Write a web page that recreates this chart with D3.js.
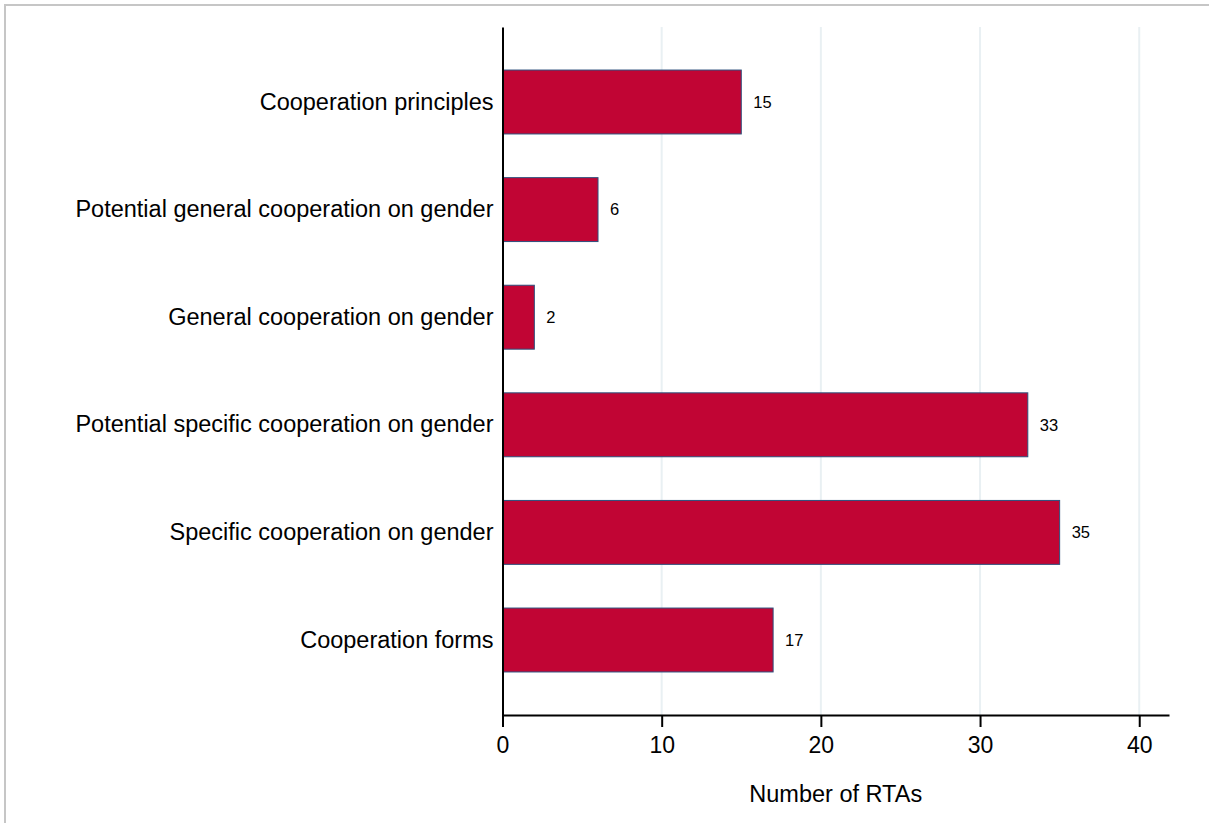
<!DOCTYPE html>
<html>
<head>
<meta charset="utf-8">
<script src="https://cdn.jsdelivr.net/npm/d3@7"></script>
<style>
  html, body { margin: 0; padding: 0; background: #ffffff; }
  svg { display: block; }
  text { font-family: "Liberation Sans", Arial, sans-serif; fill: #000; }
</style>
</head>
<body>
<svg id="chart" width="1209" height="823"></svg>
<script>
const categories = [
  "Cooperation principles",
  "Potential general cooperation on gender",
  "General cooperation on gender",
  "Potential specific cooperation on gender",
  "Specific cooperation on gender",
  "Cooperation forms"
];
const values = [15, 6, 2, 33, 35, 17];
const xTicks = [0, 10, 20, 30, 40];
const xDomain = [0, 41.87];
const xTitle = "Number of RTAs";

const svg = d3.select("#chart");
const W = 1209, H = 823;

// outer frame (top and left edges visible)
svg.append("rect")
  .attr("x", 5).attr("y", 5)
  .attr("width", W + 10).attr("height", H + 10)
  .attr("fill", "#ffffff")
  .attr("stroke", "#c6c6c6")
  .attr("stroke-width", 2);

const plot = { left: 502.5, right: 1169, top: 27, bottom: 715 };

const x = d3.scaleLinear().domain(xDomain).range([plot.left, plot.right]);
const y = d3.scaleBand().domain(categories)
  .range([plot.top, plot.bottom])
  .paddingInner(0.406).paddingOuter(0.4);

// gridlines
svg.append("g").selectAll("line")
  .data(xTicks.filter(d => d > 0))
  .join("line")
  .attr("x1", d => x(d)).attr("x2", d => x(d))
  .attr("y1", plot.top).attr("y2", plot.bottom)
  .attr("stroke", "#e9f0f3")
  .attr("stroke-width", 2);

// bars
svg.append("g").selectAll("rect")
  .data(values)
  .join("rect")
  .attr("x", x(0))
  .attr("y", (d, i) => y(categories[i]))
  .attr("width", d => x(d) - x(0))
  .attr("height", y.bandwidth())
  .attr("fill", "#c10534")
  .attr("stroke", "#2d4f7c")
  .attr("stroke-width", 1);

// value labels
svg.append("g").selectAll("text")
  .data(values)
  .join("text")
  .attr("x", d => x(d) + 12)
  .attr("y", (d, i) => y(categories[i]) + y.bandwidth() / 2)
  .attr("dy", "0.35em")
  .attr("font-size", 16.5)
  .text(d => d);

// x axis
const xAxis = d3.axisBottom(x).tickValues(xTicks).tickSize(12).tickSizeOuter(0).tickPadding(10);
const gx = svg.append("g")
  .attr("transform", `translate(0,${plot.bottom})`)
  .call(xAxis);
gx.select(".domain").attr("stroke", "#000").attr("stroke-width", 2);
gx.selectAll(".tick line").attr("stroke", "#000").attr("stroke-width", 2);
gx.selectAll(".tick text")
  .attr("font-family", "Liberation Sans, Arial, sans-serif")
  .attr("font-size", 23)
  .attr("fill", "#000");

// y axis
const yAxis = d3.axisLeft(y).tickSize(0).tickPadding(9);
const gy = svg.append("g")
  .attr("transform", `translate(${plot.left},0)`)
  .call(yAxis);
gy.select(".domain").attr("stroke", "#000").attr("stroke-width", 2);
gy.selectAll(".tick text")
  .attr("font-family", "Liberation Sans, Arial, sans-serif")
  .attr("font-size", 23.5)
  .attr("fill", "#000");

// x title
svg.append("text")
  .attr("x", (plot.left + plot.right) / 2)
  .attr("y", 802)
  .attr("text-anchor", "middle")
  .attr("font-size", 23.5)
  .text(xTitle);
</script>
</body>
</html>
